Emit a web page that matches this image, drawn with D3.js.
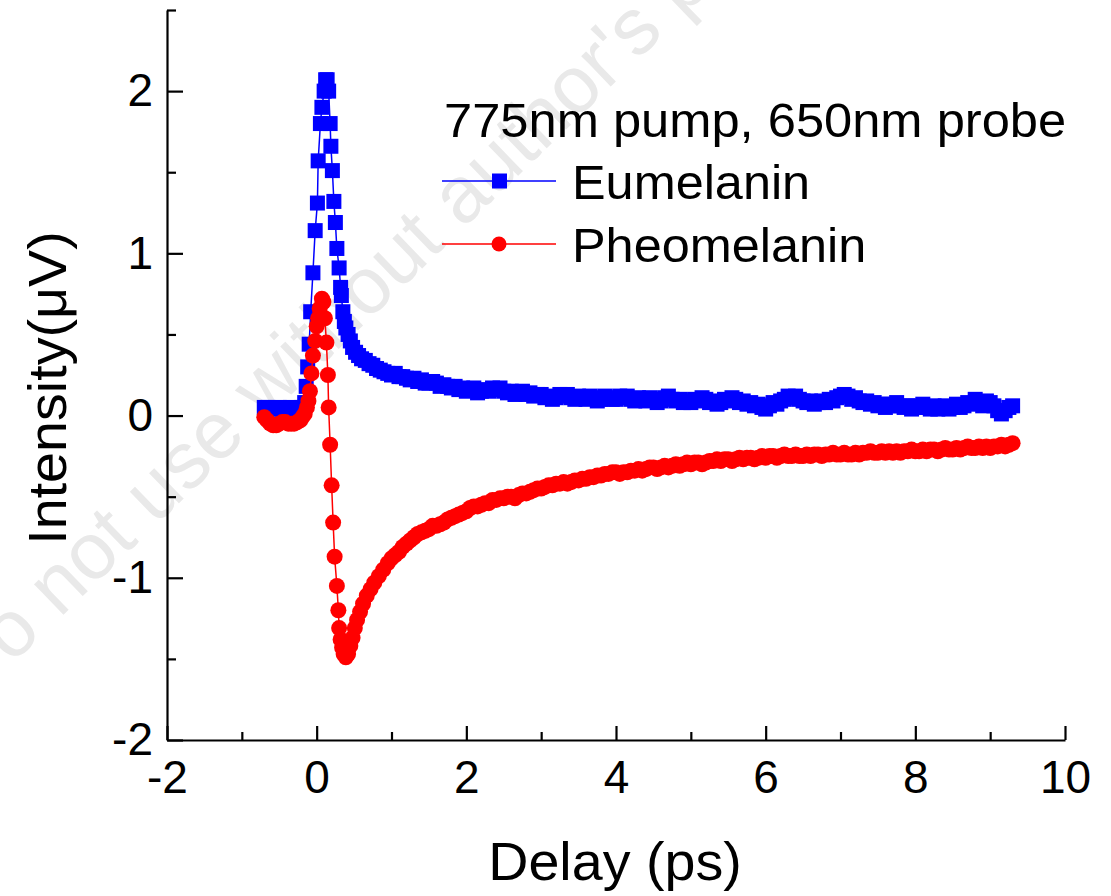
<!DOCTYPE html>
<html>
<head>
<meta charset="utf-8">
<script src="https://cdnjs.cloudflare.com/ajax/libs/d3/7.8.5/d3.min.js"></script>
<style>
	body { margin: 0; background: #fff; }
	text { font-family: "Liberation Sans", Arial, sans-serif; }
</style>
</head>
<body>
<svg id="graph"></svg>
<script>
// delay grid of the slow part of the scan (ps), shared by both samples
var tailDelay = [1.00, 1.05, 1.10, 1.15, 1.20, 1.25, 1.30, 1.35, 1.40, 1.45, 1.50, 1.55, 1.60, 1.65, 1.70, 1.75, 1.80, 1.85, 1.90, 1.95,
	2.00, 2.05, 2.10, 2.15, 2.20, 2.25, 2.30, 2.35, 2.40, 2.45, 2.50, 2.55, 2.60, 2.65, 2.70, 2.75, 2.80, 2.85, 2.90, 2.95,
	3.00, 3.05, 3.10, 3.15, 3.20, 3.25, 3.30, 3.35, 3.40, 3.45, 3.50, 3.55, 3.60, 3.65, 3.70, 3.75, 3.80, 3.85, 3.90, 3.95,
	4.00, 4.05, 4.10, 4.15, 4.20, 4.25, 4.30, 4.35, 4.40, 4.45, 4.50, 4.55, 4.60, 4.65, 4.70, 4.75, 4.80, 4.85, 4.90, 4.95,
	5.00, 5.05, 5.10, 5.15, 5.20, 5.25, 5.30, 5.35, 5.40, 5.45, 5.50, 5.55, 5.60, 5.65, 5.70, 5.75, 5.80, 5.85, 5.90, 5.95,
	6.00, 6.05, 6.10, 6.15, 6.20, 6.25, 6.30, 6.35, 6.40, 6.45, 6.50, 6.55, 6.60, 6.65, 6.70, 6.75, 6.80, 6.85, 6.90, 6.95,
	7.00, 7.05, 7.10, 7.15, 7.20, 7.25, 7.30, 7.35, 7.40, 7.45, 7.50, 7.55, 7.60, 7.65, 7.70, 7.75, 7.80, 7.85, 7.90, 7.95,
	8.00, 8.05, 8.10, 8.15, 8.20, 8.25, 8.30, 8.35, 8.40, 8.45, 8.50, 8.55, 8.60, 8.65, 8.70, 8.75, 8.80, 8.85, 8.90, 8.95,
	9.00, 9.05, 9.10, 9.15, 9.20, 9.25, 9.30];

// Eumelanin: fast part (ps / uV) then the tail on tailDelay
var eumFastDelay = [-0.70, -0.65, -0.60, -0.55, -0.50, -0.45, -0.40, -0.35, -0.30, -0.25, -0.20, -0.16, -0.14, -0.12, -0.10, -0.08, -0.05, -0.02, 0.01, 0.02, 0.05, 0.07, 0.10, 0.12, 0.14, 0.16, 0.18, 0.19, 0.21, 0.23, 0.25, 0.27, 0.30, 0.32, 0.33, 0.35, 0.37, 0.39, 0.42, 0.45, 0.48, 0.52, 0.56, 0.60, 0.65, 0.70, 0.75, 0.80, 0.85, 0.90, 0.95];
var eumFastSignal = [0.05, 0.05, 0.04, 0.04, 0.05, 0.04, 0.04, 0.05, 0.04, 0.04, 0.05, 0.08, 0.18, 0.30, 0.44, 0.64, 0.88, 1.14, 1.31, 1.57, 1.80, 1.90, 2.00, 2.07, 2.07, 2.00, 1.80, 1.66, 1.51, 1.32, 1.19, 1.03, 0.91, 0.79, 0.74, 0.64, 0.58, 0.54, 0.50, 0.46, 0.42, 0.39, 0.37, 0.35, 0.34, 0.32, 0.31, 0.29, 0.28, 0.27, 0.26];
var eumTailSignal = [0.25, 0.26, 0.24, 0.24, 0.23, 0.22, 0.23, 0.21, 0.22, 0.20, 0.20, 0.21, 0.20, 0.18, 0.19, 0.18, 0.17, 0.18, 0.16, 0.17,
	0.15, 0.16, 0.17, 0.14, 0.15, 0.16, 0.15, 0.17, 0.16, 0.17, 0.15, 0.14, 0.15, 0.13, 0.14, 0.15, 0.13, 0.14, 0.12, 0.13,
	0.13, 0.11, 0.12, 0.10, 0.11, 0.13, 0.12, 0.13, 0.11, 0.10, 0.12, 0.11, 0.10, 0.12, 0.11, 0.09, 0.10, 0.12, 0.11, 0.10,
	0.10, 0.12, 0.11, 0.12, 0.10, 0.09, 0.11, 0.10, 0.09, 0.11, 0.10, 0.08, 0.09, 0.11, 0.12, 0.10, 0.09, 0.10, 0.08, 0.09,
	0.08, 0.10, 0.09, 0.11, 0.10, 0.08, 0.09, 0.07, 0.08, 0.10, 0.09, 0.11, 0.10, 0.08, 0.09, 0.07, 0.08, 0.06, 0.07, 0.05,
	0.04, 0.06, 0.08, 0.07, 0.09, 0.10, 0.12, 0.11, 0.12, 0.10, 0.09, 0.08, 0.09, 0.07, 0.08, 0.09, 0.08, 0.10, 0.09, 0.11,
	0.12, 0.13, 0.12, 0.10, 0.11, 0.09, 0.08, 0.09, 0.07, 0.08, 0.06, 0.07, 0.05, 0.07, 0.06, 0.08, 0.06, 0.05, 0.06, 0.04,
	0.06, 0.05, 0.07, 0.05, 0.04, 0.06, 0.04, 0.05, 0.06, 0.04, 0.05, 0.07, 0.05, 0.06, 0.08, 0.07, 0.10, 0.08, 0.06, 0.09,
	0.08, 0.06, 0.03, 0.01, 0.03, 0.05, 0.06];

// Pheomelanin
var pheoFastDelay = [-0.70, -0.66, -0.62, -0.58, -0.54, -0.50, -0.46, -0.42, -0.38, -0.34, -0.30, -0.26, -0.22, -0.19, -0.16, -0.13, -0.11, -0.09, -0.07, -0.05, -0.02, 0.00, 0.02, 0.04, 0.07, 0.09, 0.11, 0.13, 0.15, 0.16, 0.18, 0.20, 0.22, 0.24, 0.27, 0.29, 0.30, 0.32, 0.34, 0.36, 0.39, 0.42, 0.45, 0.48, 0.51, 0.54, 0.58, 0.62, 0.67, 0.72, 0.77, 0.83, 0.89, 0.95];
var pheoFastSignal = [-0.01, -0.03, -0.05, -0.06, -0.06, -0.05, -0.04, -0.04, -0.05, -0.05, -0.05, -0.04, -0.03, -0.01, 0.01, 0.05, 0.09, 0.15, 0.26, 0.37, 0.46, 0.55, 0.60, 0.66, 0.72, 0.70, 0.60, 0.45, 0.25, 0.05, -0.18, -0.43, -0.66, -0.87, -1.05, -1.20, -1.31, -1.38, -1.43, -1.47, -1.49, -1.47, -1.42, -1.37, -1.31, -1.26, -1.21, -1.16, -1.11, -1.07, -1.03, -0.99, -0.95, -0.91];
var pheoTailSignal = [-0.88, -0.86, -0.84, -0.81, -0.79, -0.77, -0.75, -0.73, -0.72, -0.71, -0.70, -0.68, -0.68, -0.67, -0.66, -0.64, -0.63, -0.62, -0.61, -0.60,
	-0.59, -0.57, -0.56, -0.56, -0.55, -0.54, -0.54, -0.52, -0.52, -0.51, -0.51, -0.50, -0.50, -0.51, -0.49, -0.48, -0.48, -0.47, -0.46, -0.45,
	-0.45, -0.44, -0.43, -0.43, -0.42, -0.42, -0.41, -0.42, -0.41, -0.40, -0.40, -0.39, -0.39, -0.38, -0.38, -0.37, -0.37, -0.36, -0.36, -0.35,
	-0.35, -0.36, -0.35, -0.35, -0.34, -0.34, -0.33, -0.34, -0.33, -0.32, -0.32, -0.33, -0.32, -0.31, -0.32, -0.31, -0.30, -0.31, -0.30, -0.29,
	-0.30, -0.29, -0.29, -0.30, -0.29, -0.28, -0.28, -0.27, -0.28, -0.27, -0.27, -0.28, -0.27, -0.26, -0.27, -0.26, -0.26, -0.27, -0.26, -0.25,
	-0.26, -0.25, -0.25, -0.26, -0.25, -0.24, -0.25, -0.25, -0.24, -0.25, -0.25, -0.24, -0.25, -0.24, -0.24, -0.25, -0.24, -0.24, -0.23, -0.24,
	-0.24, -0.23, -0.24, -0.24, -0.23, -0.24, -0.23, -0.23, -0.22, -0.23, -0.23, -0.22, -0.23, -0.22, -0.23, -0.22, -0.23, -0.22, -0.22, -0.21,
	-0.22, -0.22, -0.21, -0.22, -0.21, -0.21, -0.22, -0.21, -0.20, -0.21, -0.21, -0.20, -0.21, -0.20, -0.19, -0.20, -0.20, -0.19, -0.20, -0.19,
	-0.20, -0.19, -0.19, -0.18, -0.19, -0.18, -0.17];

var xMajor = [-2, 0, 2, 4, 6, 8, 10],
	xMinor = [-1, 1, 3, 5, 7, 9],
	yMajor = [-2, -1, 0, 1, 2],
	yMinor = [-1.5, -0.5, 0.5, 1.5, 2.5];

var legendTitle = "775nm pump, 650nm probe",
	seriesNames = ["Eumelanin", "Pheomelanin"],
	seriesColors = ["#0000ff", "#ff0000"],
	xLabel = "Delay (ps)",
	yLabel = "Intensity(\u03bcV)",
	watermark = "Do not use without author's permission";

var W = 1111, H = 896,
	graph = d3.select("#graph").attr("width", W).attr("height", H);

var x = d3.scaleLinear().domain([-2, 10]).range([167, 1065]),
	y = d3.scaleLinear().domain([-2, 2.5]).range([740, 10]);

// the source text is a little wider than Liberation Sans
var stretch = function(sel, k) {
	sel.each(function() {
		var w = this.getComputedTextLength();
		d3.select(this).attr("textLength", w * k).attr("lengthAdjust", "spacingAndGlyphs");
	});
};

// faint watermark behind everything
graph.append("text")
	.attr("transform", "translate(-30,705) rotate(-44)")
	.attr("font-size", 80)
	.attr("fill", "#e9e9e9")
	.text(watermark);

// axes, ticks pointing inward
var plain = function(d) { return "" + d; };

var xAxisG = graph.append("g").attr("class", "axis").attr("transform", "translate(0,740)");
xAxisG.call(d3.axisBottom(x).tickValues(xMajor).tickSize(-14).tickSizeOuter(0).tickPadding(20).tickFormat(plain));
xAxisG.append("g").call(d3.axisBottom(x).tickValues(xMinor).tickSize(-8).tickSizeOuter(0).tickFormat(""))
	.select(".domain").remove();

var yAxisG = graph.append("g").attr("class", "axis").attr("transform", "translate(167,0)");
yAxisG.call(d3.axisLeft(y).tickValues(yMajor).tickSize(-16).tickSizeOuter(0).tickPadding(14).tickFormat(plain));
yAxisG.append("g").call(d3.axisLeft(y).tickValues(yMinor).tickSize(-9).tickSizeOuter(0).tickFormat(""))
	.select(".domain").remove();

graph.selectAll(".axis path, .axis line").attr("stroke", "#000").attr("stroke-width", 2.2);
graph.selectAll(".axis text")
	.attr("font-size", 46)
	.attr("fill", "#000")
	.style("font-family", "'Liberation Sans', Arial, sans-serif");

graph.append("text")
	.attr("x", 615).attr("y", 880)
	.attr("text-anchor", "middle")
	.attr("font-size", 53)
	.text(xLabel)
	.call(stretch, 1.05);

graph.append("text")
	.attr("transform", "translate(66,388) rotate(-90)")
	.attr("text-anchor", "middle")
	.attr("font-size", 53)
	.text(yLabel)
	.call(stretch, 1.05);

// data
var lineFunc = d3.line()
	.x(function(d) { return x(d[0]); })
	.y(function(d) { return y(d[1]); });

var eumData = d3.zip(eumFastDelay.concat(tailDelay), eumFastSignal.concat(eumTailSignal)),
	pheoData = d3.zip(pheoFastDelay.concat(tailDelay), pheoFastSignal.concat(pheoTailSignal));

var eumG = graph.append("g");
eumG.append("path").datum(eumData)
	.attr("d", lineFunc).attr("fill", "none")
	.attr("stroke", seriesColors[0]).attr("stroke-width", 1.5);
eumG.selectAll("rect").data(eumData).enter().append("rect")
	.attr("x", function(d) { return x(d[0]) - 7.5; })
	.attr("y", function(d) { return y(d[1]) - 7.5; })
	.attr("width", 15).attr("height", 15)
	.attr("fill", seriesColors[0]);

var pheoG = graph.append("g");
pheoG.append("path").datum(pheoData)
	.attr("d", lineFunc).attr("fill", "none")
	.attr("stroke", seriesColors[1]).attr("stroke-width", 1.5);
pheoG.selectAll("circle").data(pheoData).enter().append("circle")
	.attr("cx", function(d) { return x(d[0]); })
	.attr("cy", function(d) { return y(d[1]); })
	.attr("r", 8)
	.attr("fill", seriesColors[1]);

// legend
var legend = graph.append("g");
legend.append("text")
	.attr("x", 444).attr("y", 137)
	.attr("font-size", 48)
	.text(legendTitle)
	.call(stretch, 1.055);

var legendRows = [{y: 181, shape: "square"}, {y: 244, shape: "circle"}];
legendRows.forEach(function(r, i) {
	legend.append("line")
		.attr("x1", 442).attr("x2", 556).attr("y1", r.y).attr("y2", r.y)
		.attr("stroke", seriesColors[i]).attr("stroke-width", 1.5);
	if (r.shape == "square") {
		legend.append("rect")
			.attr("x", 492).attr("y", r.y - 7.5).attr("width", 15).attr("height", 15)
			.attr("fill", seriesColors[i]);
	} else {
		legend.append("circle")
			.attr("cx", 499).attr("cy", r.y).attr("r", 7.5)
			.attr("fill", seriesColors[i]);
	}
	legend.append("text")
		.attr("x", 572).attr("y", r.y + 18)
		.attr("font-size", 48)
		.text(seriesNames[i])
		.call(stretch, 1.05);
});
</script>
</body>
</html>
